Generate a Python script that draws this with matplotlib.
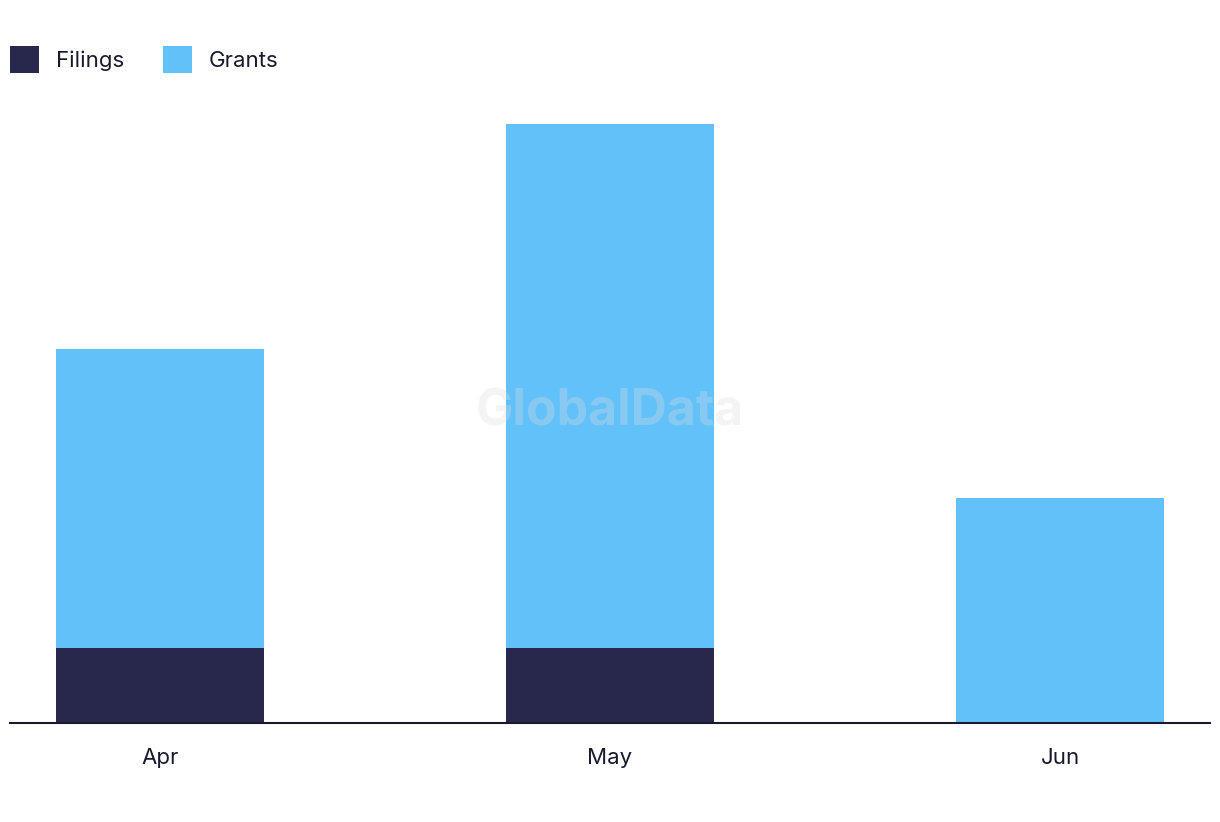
import matplotlib.pyplot as plt
import numpy as np

months = ['Apr', 'May', 'Jun']
filings = [1, 1, 0]
grants = [4, 7, 3]

plt.rcParams['font.family'] = ['Inter', 'DejaVu Sans']

fig = plt.figure(figsize=(12.2, 8.22), dpi=100)
ax = fig.add_axes([10 / 1220, 99 / 822, 1200 / 1220, 599 / 822])

x = np.arange(len(months))
w = 0.462
ax.bar(x, filings, w, color='#28284c', label='Filings')
ax.bar(x, grants, w, bottom=filings, color='#63c1f9', label='Grants')

ax.set_xlim(-0.333, 2.333)
ax.set_ylim(0, 8)
ax.set_xticks(x)
ax.set_xticklabels(months, fontsize=16, color='#1a1a2e')
ax.tick_params(axis='x', length=0, pad=18)
ax.set_yticks([])
for s in ['top', 'right', 'left']:
    ax.spines[s].set_visible(False)
ax.spines['bottom'].set_color('#1a1a2e')
ax.spines['bottom'].set_linewidth(1.5)

# watermark
ax.text(0.5, 0.52, 'GlobalData', transform=ax.transAxes, ha='center', va='center',
        fontsize=36, fontweight='bold', color='#dddddd', alpha=0.3, zorder=5)

fig.legend(loc='upper left', bbox_to_anchor=(10 / 1220, 1 - 46 / 822),
           ncol=2, frameon=False, fontsize=16, handlelength=1.31, handleheight=1.5,
           handletextpad=0.75, columnspacing=1.75, borderpad=0, borderaxespad=0,
           labelcolor='#1a1a2e')

fig.savefig('out.png', dpi=100)
